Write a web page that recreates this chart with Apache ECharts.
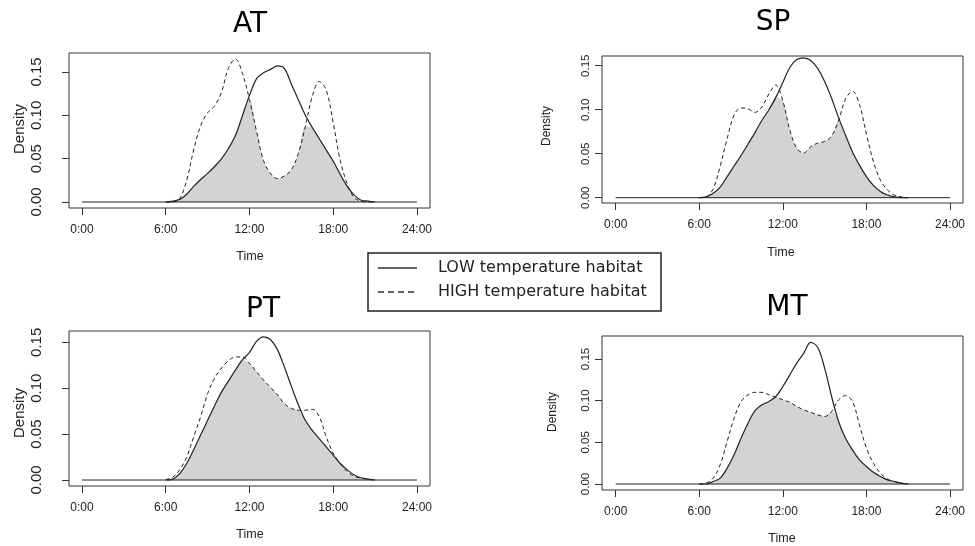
<!DOCTYPE html>
<html><head><meta charset="utf-8">
<script src="https://cdn.jsdelivr.net/npm/echarts@6/dist/echarts.min.js"></script>
<style>html,body{margin:0;padding:0;background:#fff}#c{width:975px;height:546px}</style>
</head><body><div id="c"></div>
<script>
// ---- data ----
const hours = [6,6.5,7,7.5,8,8.5,9,9.5,10,10.5,11,11.5,12,12.5,13,13.5,14,14.5,15,15.5,16,16.5,17,17.5,18,18.5,19,19.5,20,20.5,21];
const baseHours = [0, 24];
const timeTicks = [0, 6, 12, 18, 24];
const timeLabels = ['0:00', '6:00', '12:00', '18:00', '24:00'];
const densTicks = [0, 0.05, 0.10, 0.15];
const densLabels = ['0.00', '0.05', '0.10', '0.15'];
const panelNames = ['AT', 'SP', 'PT', 'MT'];
const legendLabels = ['LOW temperature habitat', 'HIGH temperature habitat'];

const atLow  = [0,0.001,0.003,0.009,0.018,0.026,0.033,0.041,0.050,0.062,0.077,0.100,0.123,0.142,0.149,0.153,0.157,0.154,0.136,0.118,0.100,0.086,0.073,0.060,0.047,0.032,0.018,0.008,0.002,0.001,0];
const atHigh = [0,0,0.004,0.025,0.060,0.088,0.103,0.111,0.127,0.155,0.165,0.148,0.118,0.082,0.048,0.033,0.027,0.030,0.037,0.056,0.087,0.122,0.139,0.129,0.091,0.048,0.021,0.005,0.001,0,0];
const spLow  = [0,0.001,0.005,0.012,0.024,0.036,0.048,0.061,0.074,0.088,0.100,0.114,0.131,0.148,0.157,0.159,0.156,0.147,0.132,0.113,0.091,0.071,0.052,0.037,0.024,0.014,0.007,0.003,0.001,0,0];
const spHigh = [0,0.001,0.010,0.036,0.067,0.094,0.102,0.101,0.097,0.103,0.118,0.128,0.110,0.077,0.056,0.051,0.058,0.062,0.064,0.070,0.088,0.112,0.121,0.106,0.072,0.041,0.020,0.009,0.003,0.001,0];
const ptLow  = [0,0.001,0.007,0.018,0.033,0.049,0.065,0.081,0.096,0.108,0.120,0.131,0.139,0.151,0.156,0.153,0.142,0.123,0.102,0.082,0.065,0.054,0.045,0.036,0.027,0.018,0.011,0.0055,0.0025,0.001,0];
const ptHigh = [0.0005,0.003,0.011,0.025,0.047,0.069,0.094,0.111,0.122,0.130,0.134,0.134,0.127,0.118,0.109,0.101,0.093,0.083,0.078,0.076,0.076,0.077,0.069,0.047,0.029,0.018,0.009,0.004,0.002,0.001,0];
const mtLow  = [0,0,0.003,0.007,0.019,0.035,0.055,0.073,0.088,0.095,0.099,0.105,0.117,0.131,0.145,0.157,0.170,0.164,0.139,0.105,0.075,0.055,0.041,0.029,0.021,0.014,0.009,0.005,0.003,0.001,0];
const mtHigh = [0,0.001,0.007,0.023,0.051,0.079,0.099,0.107,0.110,0.110,0.107,0.104,0.101,0.098,0.093,0.089,0.086,0.083,0.081,0.087,0.101,0.106,0.099,0.071,0.043,0.025,0.013,0.006,0.003,0.001,0];

const lowSets  = [atLow, spLow, ptLow, mtLow];
const highSets = [atHigh, spHigh, ptHigh, mtHigh];

// ---- layout (pixels) ----
const layout = [
  {box:{l:69,r:430,t:53,b:208}, x0:82, x24:417, y0:202, y15:72, yFont:15, yMargin:25, title:[250,25], time:[250,257], dens:[20,129], dFont:15},
  {box:{l:602,r:963,t:56,b:203}, x0:615.7, x24:950, y0:197.7, y15:65.7, yFont:11.5, yMargin:10, title:[773,23], time:[781,253], dens:[547,126], dFont:12},
  {box:{l:69,r:430,t:331,b:486}, x0:82, x24:417, y0:480, y15:342.3, yFont:15, yMargin:25, title:[263,310], time:[250,535], dens:[20,413], dFont:15},
  {box:{l:602,r:963,t:336,b:490}, x0:615.7, x24:950, y0:484, y15:359, yFont:11.5, yMargin:10, title:[787,308], time:[782,539], dens:[553,412], dFont:12}
];

const INK = '#222';
const sans = "'Liberation Sans', Arial, sans-serif";

const grids = [], xAxes = [], yAxes = [], series = [], graphics = [];

layout.forEach((L, i) => {
  const b = L.box;
  grids.push({left: b.l, top: b.t, width: b.r - b.l, height: b.b - b.t, show: true,
    borderColor: '#333', borderWidth: 1, backgroundColor: 'transparent', containLabel: false});
  const pxPerH = (L.x24 - L.x0) / 24;
  const pxPerV = (L.y0 - L.y15) / 0.15;
  xAxes.push({type: 'value', gridIndex: i, position: 'bottom',
    min: -(L.x0 - b.l) / pxPerH, max: 24 + (b.r - L.x24) / pxPerH,
    axisLine: {show: false, onZero: false}, splitLine: {show: false},
    axisTick: {show: true, inside: false, length: 7, customValues: timeTicks, lineStyle: {color: '#333'}},
    axisLabel: {show: true, customValues: timeTicks, margin: 16, fontSize: 12, fontFamily: sans, color: INK,
      formatter: v => timeLabels[timeTicks.indexOf(v)]}
  });
  yAxes.push({type: 'value', gridIndex: i, position: 'left',
    min: -(b.b - L.y0) / pxPerV, max: (L.y0 - b.t) / pxPerV,
    axisLine: {show: false, onZero: false}, splitLine: {show: false},
    axisTick: {show: true, inside: false, length: 7, customValues: densTicks, lineStyle: {color: '#333'}},
    axisLabel: {show: true, customValues: densTicks, rotate: 90, margin: L.yMargin, fontSize: L.yFont, fontFamily: sans, color: INK,
      formatter: v => densLabels[densTicks.indexOf(v)]}
  });
  const low = lowSets[i], high = highSets[i];
  series.push({type: 'line', xAxisIndex: i, yAxisIndex: i, silent: true, symbol: 'none', smooth: 0.35, z: 1,
    data: hours.map((h, k) => [h, Math.min(low[k], high[k])]),
    lineStyle: {width: 0, opacity: 0}, areaStyle: {color: '#d3d3d3', opacity: 1}});
  series.push({type: 'line', xAxisIndex: i, yAxisIndex: i, silent: true, symbol: 'none', z: 2,
    data: baseHours.map(h => [h, 0]), lineStyle: {color: INK, width: 1}});
  series.push({type: 'line', xAxisIndex: i, yAxisIndex: i, silent: true, symbol: 'none', smooth: 0.35, z: 3,
    name: legendLabels[0], data: hours.map((h, k) => [h, low[k]]), lineStyle: {color: INK, width: 1.2}});
  series.push({type: 'line', xAxisIndex: i, yAxisIndex: i, silent: true, symbol: 'none', smooth: 0.35, z: 3,
    name: legendLabels[1], data: hours.map((h, k) => [h, high[k]]), lineStyle: {color: INK, width: 1, type: [4, 3]}});

  graphics.push({type: 'text', x: L.title[0], y: L.title[1], style: {text: panelNames[i], font: "28px 'DejaVu Sans', sans-serif", fill: '#000', align: 'center', verticalAlign: 'middle'}});
  graphics.push({type: 'text', x: L.time[0], y: L.time[1], style: {text: 'Time', font: "12.5px " + sans, fill: INK, align: 'center', verticalAlign: 'middle'}});
  graphics.push({type: 'text', x: L.dens[0], y: L.dens[1], rotation: Math.PI / 2, style: {text: 'Density', font: L.dFont + "px " + sans, fill: INK, align: 'center', verticalAlign: 'middle'}});
});

// legend box
graphics.push({type: 'rect', shape: {x: 368, y: 253, width: 293, height: 58}, style: {fill: '#fff', stroke: '#222', lineWidth: 1.5}, z: 10});
graphics.push({type: 'line', shape: {x1: 378, y1: 268, x2: 417, y2: 268}, style: {stroke: '#333', lineWidth: 1.3}, z: 11});
graphics.push({type: 'line', shape: {x1: 378, y1: 292, x2: 417, y2: 292}, style: {stroke: '#333', lineWidth: 1.3, lineDash: [6, 4]}, z: 11});
graphics.push({type: 'text', x: 438, y: 268, style: {text: legendLabels[0], font: "16px 'DejaVu Sans', sans-serif", fill: INK, align: 'left', verticalAlign: 'middle'}, z: 11});
graphics.push({type: 'text', x: 438, y: 292, style: {text: legendLabels[1], font: "16px 'DejaVu Sans', sans-serif", fill: INK, align: 'left', verticalAlign: 'middle'}, z: 11});

const chart = echarts.init(document.getElementById('c'), null, {renderer: 'canvas'});
chart.setOption({
  animation: false,
  backgroundColor: '#fff',
  grid: grids, xAxis: xAxes, yAxis: yAxes, series: series,
  graphic: graphics
});
</script></body></html>
